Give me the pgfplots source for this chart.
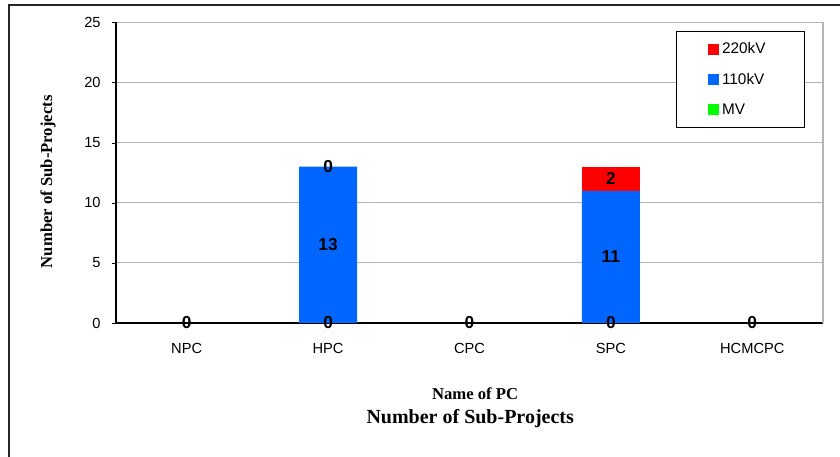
\documentclass[border=0pt]{standalone}
\usepackage{fontspec}
\setmainfont{Liberation Sans}
\newfontfamily\seriffont{Liberation Serif}
\usepackage{pgfplots}
\pgfplotsset{compat=1.18}
\definecolor{cRed}{RGB}{255,0,0}
\definecolor{cBlue}{RGB}{0,102,255}
\definecolor{cGreen}{RGB}{0,255,0}
\definecolor{gridgray}{RGB}{180,180,180}
\begin{document}
\begin{tikzpicture}[x=1pt,y=1pt]
\useasboundingbox (0,0) rectangle (630,342.75);
\draw[line width=1.2pt, black!85] (6.75,-2) -- (6.75,339) -- (632,339);
\begin{axis}[
  at={(87pt,100.5pt)}, anchor=south west,
  scale only axis, width=530.25pt, height=225.4pt,
  ybar stacked, bar width=0.41,
  xmin=-0.5, xmax=4.5, ymin=0, ymax=25,
  ytick={0,5,...,25},
  xtick={0,1,2,3,4},
  xticklabels={NPC,HPC,CPC,SPC,HCMCPC},
  x tick style={draw=none},
  extra x ticks={0.5,1.5,2.5,3.5},
  extra x tick labels={},
  extra x tick style={tick style={draw=black}, major tick length=4pt, tick align=inside, grid=none},
  y tick style={draw=black},
  tick align=outside,
  major tick length=3pt,
  ymajorgrids, grid style={gridgray, line width=0.8pt},
  axis x line*=bottom, axis y line*=left,
  axis line style={black, line width=0.8pt},
  /pgf/number format/assume math mode=true,
  tick label style={font=\fontsize{11}{13}\selectfont},
  xticklabel style={yshift=-9pt},
  yticklabel style={xshift=-5pt},
  xlabel={Name of PC},
  xlabel style={font=\seriffont\bfseries\fontsize{12.5}{14}\selectfont, at={(axis description cs:0.508,-0.235)}, anchor=center},
  ylabel={Number of Sub-Projects},
  ylabel style={font=\seriffont\bfseries\fontsize{12.5}{14}\selectfont, at={(axis description cs:-0.096,0.47)}, anchor=center},
  title={Number of Sub-Projects},
  title style={font=\seriffont\bfseries\fontsize{15}{17}\selectfont, at={(axis description cs:0.501,-0.345)}, anchor=center},
  legend image code/.code={\fill[#1] (0pt,-4.1pt) rectangle (8.2pt,4.1pt);},
  reverse legend,
  legend cell align=left,
  legend style={at={(0.792,0.972)}, anchor=north west, draw=black, line width=0.8pt,
    inner xsep=24pt, inner ysep=6.5pt, row sep=9pt,
    font=\fontsize{11.5}{13}\selectfont,
    nodes={text width=36pt}},
  after end axis/.code={\draw[gridgray, line width=0.8pt] (rel axis cs:1,0) -- (rel axis cs:1,1);},
]
\addplot[fill=cGreen, draw=none] coordinates {(0,0) (1,0) (2,0) (3,0) (4,0)};
\addplot[fill=cBlue, draw=none] coordinates {(0,0) (1,13) (2,0) (3,11) (4,0)};
\addplot[fill=cRed, draw=none] coordinates {(0,0) (1,0) (2,0) (3,2) (4,0)};
\legend{MV,110kV,220kV}
\end{axis}
\begin{axis}[
  at={(87pt,100.5pt)}, anchor=south west,
  scale only axis, width=530.25pt, height=225.4pt,
  xmin=-0.5, xmax=4.5, ymin=0, ymax=25,
  hide axis, clip=false,
]
\addplot[only marks, mark=none, nodes near coords, point meta=explicit symbolic,
  every node near coord/.append style={anchor=center, font=\bfseries\fontsize{13}{15}\selectfont}]
  coordinates {(0,0)[0] (1,0)[0] (1,6.5)[13] (1,13)[0] (2,0)[0] (3,0)[0] (3,5.5)[11] (3,12)[2] (4,0)[0]};
\end{axis}
\end{tikzpicture}
\end{document}
